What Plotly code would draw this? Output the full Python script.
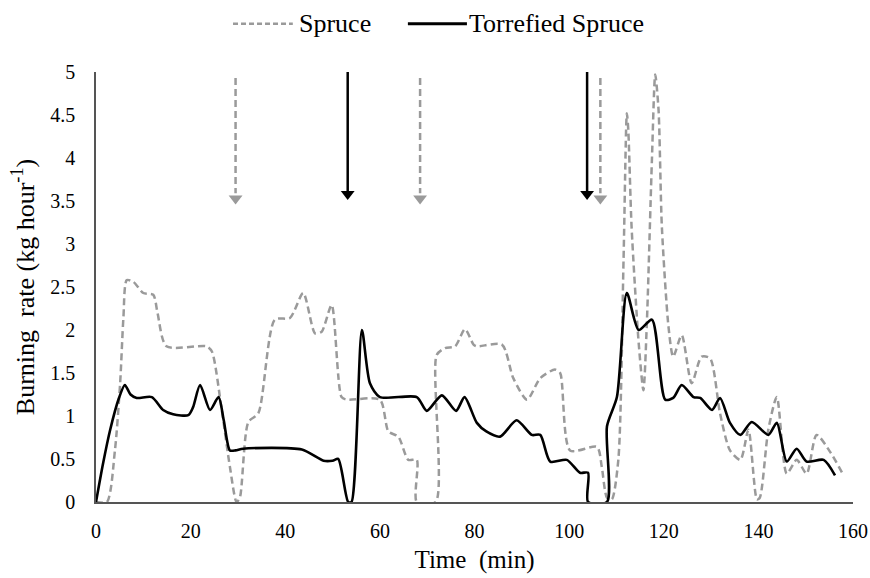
import plotly.graph_objects as go

# Spruce (gray dashed)
spruce_t = [0, 2.3, 4.0, 5.1, 5.8, 6.5, 7.9, 10.0, 12.1, 13.0, 14.9, 23.4, 24.5, 26.5, 28.3, 29.7, 30.4,
            32.2, 34.3, 37.8, 41.0, 43.8, 46.3, 47.7, 49.8, 51.9, 53.0, 60.0, 61.8, 63.9, 66.0, 67.8,
            67.8, 71.8, 72.0, 73.8, 75.9, 78.0, 79.8, 80.5, 85.8, 88.2, 91.1, 93.9, 97.0, 98.1, 100.2,
            105.9, 106.9, 108.0, 109.0, 110.4, 111.5, 112.2, 112.5, 113.2, 114.7, 115.7, 116.4, 117.5,
            118.2, 118.9, 119.6, 121.0, 122.0, 123.8, 125.9, 128.0, 129.8, 131.9, 134.0, 136.2, 137.9,
            139.7, 140.3, 142.1, 143.9, 146.0, 148.1, 150.2, 152.3, 155.2, 158.0]
spruce_rate = [0, 0, 0.6, 1.38, 2.15, 2.58, 2.56, 2.43, 2.41, 2.2, 1.81, 1.81, 1.75, 1.1, 0.41, 0.0, 0.05,
               0.93, 1.03, 2.12, 2.14, 2.43, 1.96, 1.98, 2.29, 1.22, 1.19, 1.19, 0.82, 0.76, 0.49, 0.49,
               0, 0, 1.71, 1.79, 1.81, 2.01, 1.83, 1.81, 1.83, 1.44, 1.19, 1.44, 1.54, 1.50, 0.60,
               0.64, 0.41, 0.05, 0.03, 0.49, 2.81, 4.52, 4.33, 3.2, 1.85, 1.30, 2.04, 3.98,
               4.97, 4.56, 3.2, 2.04, 1.69, 1.94, 1.38, 1.69, 1.67, 1.03, 0.60, 0.49, 0.84,
               0.03, 0.05, 0.84, 1.22, 0.33, 0.49, 0.33, 0.78, 0.58, 0.31]

# Torrefied Spruce (black solid)
torr_t = [0, 1.5, 3.0, 4.8, 6.1, 7.3, 8.6, 11.8, 14.2, 16.3, 19.5, 20.5, 22.0, 24.1, 25.9, 27.0, 28.3,
          29.5, 31.1, 43.5, 48.1, 50.0, 51.2, 53.3, 54.0, 56.2, 57.9, 60.0, 67.8, 69.9, 73.1, 76.1, 77.9,
          80.5, 82.5, 85.4, 88.9, 92.1, 93.9, 96.0, 99.5, 102.3, 104.0, 104.0, 108.0, 108.0, 110.1,
          112.2, 114.7, 117.5, 120.3, 122.0, 123.8, 126.3, 127.7, 130.2, 131.9, 134.0, 136.2, 138.6,
          142.1, 143.9, 146.0, 148.1, 150.2, 153.8, 156.2]
torr_rate = [0, 0.45, 0.84, 1.2, 1.36, 1.25, 1.21, 1.22, 1.07, 1.02, 1.01, 1.1, 1.36, 1.07, 1.22, 0.95, 0.60,
             0.60, 0.62, 0.61, 0.48, 0.48, 0.50, 0, 0, 2.0, 1.38, 1.22, 1.22, 1.06, 1.24, 1.06, 1.22,
             0.92, 0.82, 0.76, 0.95, 0.78, 0.78, 0.47, 0.49, 0.34, 0.34, 0, 0, 0.88, 1.22,
             2.43, 2.0, 2.12, 1.19, 1.21, 1.36, 1.22, 1.21, 1.07, 1.21, 0.92, 0.78, 0.93,
             0.78, 0.92, 0.47, 0.62, 0.47, 0.49, 0.31]

# Feeding arrows (time in min)
spruce_arrows = [29.5, 68.5, 106.6]
torr_arrows = [53.2, 103.8]
arrow_top = 5.0
arrow_tip = 3.45

series_names = ["Spruce", "Torrefied Spruce"]

GRAY = "#9a9a9a"
DASH = "7px,4px"
FONT = "Liberation Serif, Times New Roman, Times, serif"

fig = go.Figure()
fig.add_trace(go.Scatter(x=spruce_t, y=spruce_rate, mode="lines", name=series_names[0], showlegend=False,
                         line=dict(color=GRAY, width=2.5, dash=DASH, shape="spline", smoothing=0.7)))
fig.add_trace(go.Scatter(x=torr_t, y=torr_rate, mode="lines", name=series_names[1], showlegend=False,
                         line=dict(color="black", width=2.6, shape="spline", smoothing=0.7)))

for t in spruce_arrows:
    fig.add_trace(go.Scatter(x=[t, t], y=[arrow_top - 0.07, arrow_tip + 0.14], mode="lines", showlegend=False,
                             line=dict(color=GRAY, width=2.5, dash=DASH), hoverinfo="skip"))
    fig.add_trace(go.Scatter(x=[t], y=[arrow_tip + 0.08], mode="markers", showlegend=False,
                             marker=dict(symbol="triangle-down", size=12, color=GRAY), hoverinfo="skip"))
for t in torr_arrows:
    fig.add_trace(go.Scatter(x=[t, t], y=[arrow_top, arrow_tip + 0.16], mode="lines", showlegend=False,
                             line=dict(color="black", width=2.5), hoverinfo="skip"))
    fig.add_trace(go.Scatter(x=[t], y=[arrow_tip + 0.13], mode="markers", showlegend=False,
                             marker=dict(symbol="triangle-down", size=12, color="black"), hoverinfo="skip"))

# Manual legend (line samples + labels) above the plot
leg_y = 1.112
fig.add_shape(type="line", xref="paper", yref="paper", x0=0.181, x1=0.260, y0=leg_y, y1=leg_y,
              line=dict(color=GRAY, width=2.5, dash="5px,3px"))
fig.add_shape(type="line", xref="paper", yref="paper", x0=0.412, x1=0.490, y0=leg_y, y1=leg_y,
              line=dict(color="black", width=3))
fig.add_annotation(xref="paper", yref="paper", x=0.266, y=leg_y, xanchor="left", yanchor="middle",
                   text=series_names[0], showarrow=False, font=dict(size=26))
fig.add_annotation(xref="paper", yref="paper", x=0.490, y=leg_y, xanchor="left", yanchor="middle",
                   text=series_names[1], showarrow=False, font=dict(size=26))

fig.update_layout(
    width=870, height=578,
    margin=dict(l=96, r=17, t=72, b=76),
    paper_bgcolor="white", plot_bgcolor="white",
    font=dict(family=FONT, size=20, color="black"),
    showlegend=False,
    xaxis=dict(range=[0, 160], tickmode="linear", tick0=0, dtick=20, showgrid=False, zeroline=False,
               automargin=False, showline=True, linecolor="#555555", linewidth=1.5, ticks="",
               ticklabelstandoff=10, ticklabeloverflow="allow", tickfont=dict(size=20),
               title=dict(text="Time  (min)", font=dict(size=25), standoff=10)),
    yaxis=dict(range=[0, 5], tickmode="linear", tick0=0, dtick=0.5, showgrid=False, zeroline=False,
               automargin=False, showline=True, linecolor="#555555", linewidth=1.5, ticks="",
               ticklabelstandoff=15, ticklabeloverflow="allow", tickfont=dict(size=20),
               title=dict(text="Burning  rate (kg hour<sup>-1</sup>)", font=dict(size=26), standoff=8)),
)

# remove the default 8px page margin so the 870x578 figure fills the window exactly
fig.write_html("out.html", config={"displayModeBar": False},
               post_script="document.body.style.margin='0';document.body.style.overflow='hidden';")
